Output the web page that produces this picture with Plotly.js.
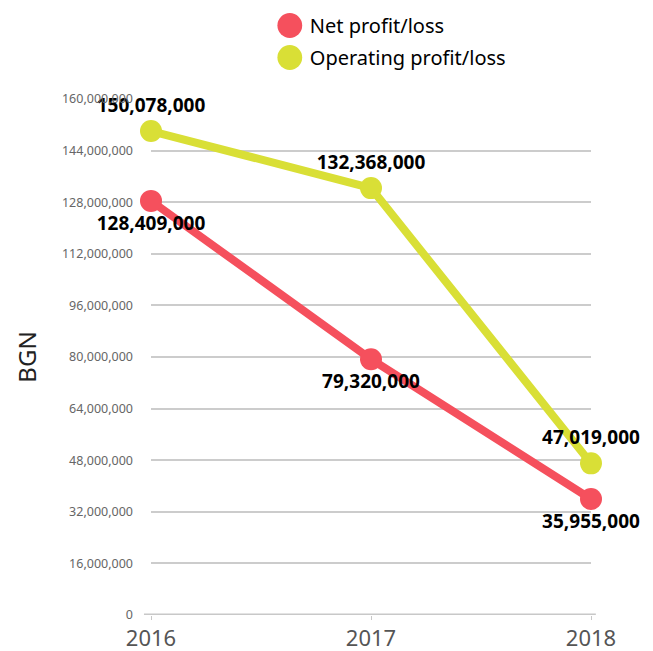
<!DOCTYPE html>
<html>
<head>
<meta charset="utf-8">
<script src="https://cdn.plot.ly/plotly-3.0.1.min.js"></script>
<style>html,body{margin:0;padding:0;background:#fff}#chart{width:653px;height:651px}</style>
</head>
<body>
<div id="chart"></div>
<script>
var years = [2016, 2017, 2018];
var netProfit = [128409000, 79320000, 35955000];
var operatingProfit = [150078000, 132368000, 47019000];
var seriesNames = ['Net profit/loss', 'Operating profit/loss'];
var colors = ['#f5505d', '#d9df36'];

function fmt(v){ return v.toLocaleString('en-US'); }

var labelFont = {family: 'Noto Sans, sans-serif', size: 19, color: '#000', weight: 700};

var traces = [
  {
    x: years, y: netProfit, name: seriesNames[0], type: 'scatter', mode: 'lines+markers+text',
    line: {color: colors[0], width: 8},
    marker: {color: colors[0], size: 22},
    text: netProfit.map(fmt), textposition: 'bottom center',
    textfont: labelFont, cliponaxis: false, showlegend: false
  },
  {
    x: years, y: operatingProfit, name: seriesNames[1], type: 'scatter', mode: 'lines+markers+text',
    line: {color: colors[1], width: 8},
    marker: {color: colors[1], size: 22},
    text: operatingProfit.map(fmt), textposition: 'top center',
    textfont: labelFont, cliponaxis: false, showlegend: false
  },
  // legend entries (marker only, like the reference legend)
  {x: [null], y: [null], name: seriesNames[0], type: 'scatter', mode: 'markers',
   marker: {color: colors[0], size: 16}, legendgroup: 'a', showlegend: true},
  {x: [null], y: [null], name: seriesNames[1], type: 'scatter', mode: 'markers',
   marker: {color: colors[1], size: 16}, legendgroup: 'b', showlegend: true}
];

var layout = {
  width: 653, height: 651,
  margin: {l: 151, r: 62, t: 99, b: 36},
  paper_bgcolor: '#fff', plot_bgcolor: '#fff',
  showlegend: true,
  legend: {
    xref: 'paper', x: 0.27, xanchor: 'left',
    yref: 'container', y: 0.9908, yanchor: 'top',
    font: {family: 'Noto Sans, sans-serif', size: 20, color: '#000'},
    tracegroupgap: 3, itemsizing: 'trace'
  },
  xaxis: {
    range: [2016, 2018], tickvals: years, ticktext: years.map(String),
    showgrid: false, zeroline: false, showline: false,
    ticks: 'outside', ticklen: 4, tickcolor: '#c8c8c8', tickwidth: 1,
    tickfont: {family: 'Noto Sans, sans-serif', size: 22, color: '#555'}
  },
  yaxis: {
    range: [0, 160000000], dtick: 16000000, tick0: 0,
    tickformat: ',d',
    showgrid: true, gridcolor: '#cccccc', gridwidth: 1.5,
    zeroline: false, showline: false, ticks: '',
    ticklabelstandoff: 17,
    tickfont: {family: 'Noto Sans, sans-serif', size: 12.5, color: '#666'},
    title: {text: 'BGN', font: {family: 'Noto Sans, sans-serif', size: 24, color: '#222'}, standoff: 18}
  },
  shapes: [
    {type: 'line', xref: 'paper', yref: 'y', x0: -0.016, x1: 1.011, y0: 0, y1: 0,
     line: {color: '#c8c8c8', width: 3}, layer: 'below'}
  ]
};

Plotly.newPlot('chart', traces, layout, {displayModeBar: false, responsive: false}).then(function(gd){
  var pts = gd.querySelectorAll('.legend .legendpoints path.scatterpts');
  pts.forEach(function(p){
    var t = p.getAttribute('transform') || '';
    p.setAttribute('transform', t + ' scale(1.55)');
  });
});
</script>
</body>
</html>
